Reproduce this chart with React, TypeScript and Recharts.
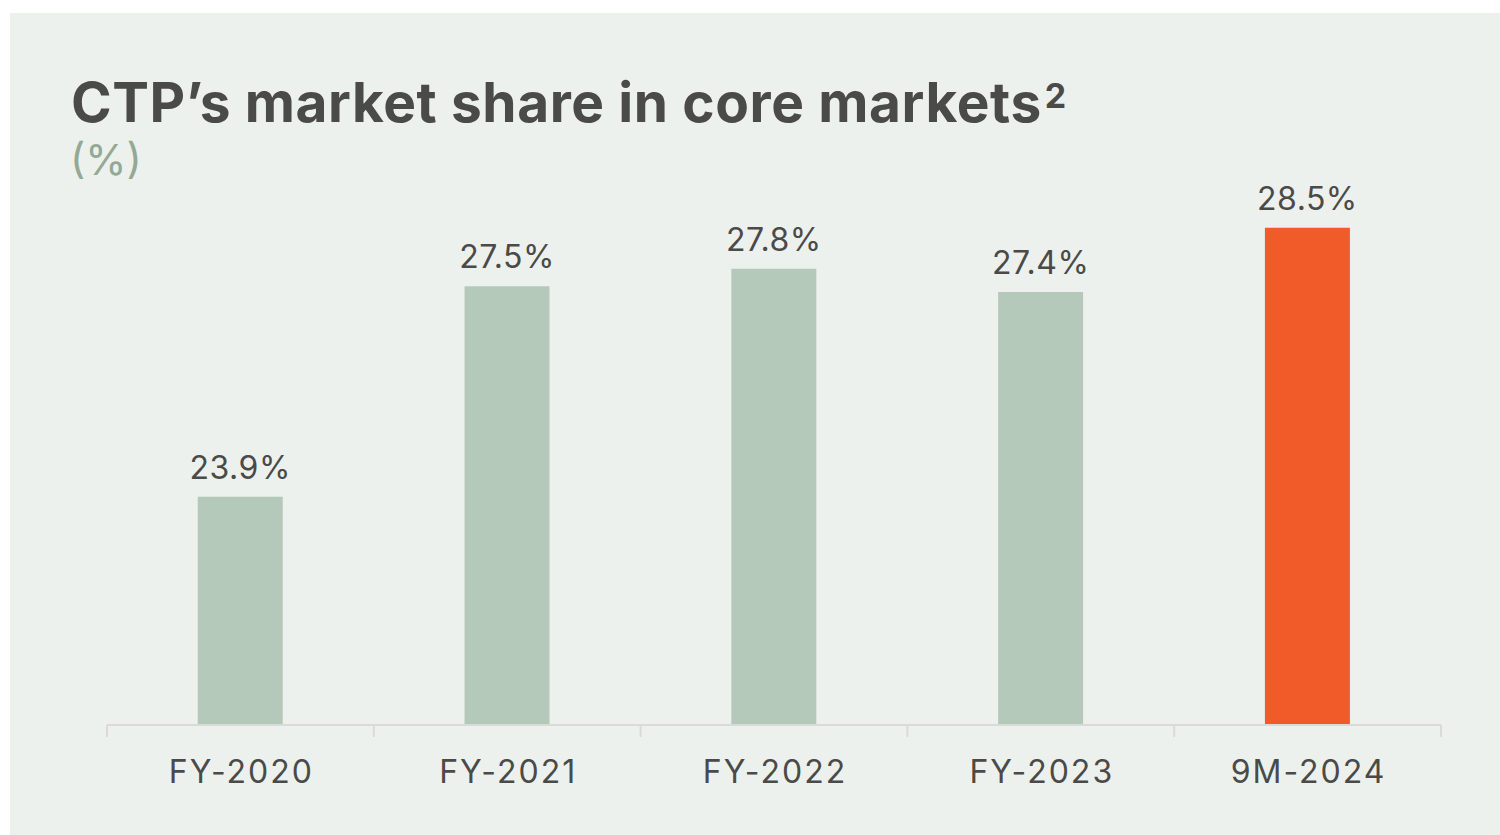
import { BarChart, Bar, XAxis, YAxis, Cell, LabelList } from 'recharts'

const periods = ['FY-2020', 'FY-2021', 'FY-2022', 'FY-2023', '9M-2024']
const shares = [23.9, 27.5, 27.8, 27.4, 28.5]
const barColors = ['#B4C9B9', '#B4C9B9', '#B4C9B9', '#B4C9B9', '#F15A29']

const chartData = periods.map((period, i) => ({ period, share: shares[i] }))

const AXIS_GREY = '#D9DBD8'

// label plus the little boundary ticks between categories
const PeriodTick = (props: any) => {
  const { x, y, payload, index, visibleTicksCount } = props
  const half = payload.offset || 0
  const isLast = index === visibleTicksCount - 1
  return (
    <g>
      <line x1={x - half} x2={x - half} y1={y - 35} y2={y - 23} stroke={AXIS_GREY} strokeWidth={2} />
      {isLast && <line x1={x + half} x2={x + half} y1={y - 35} y2={y - 23} stroke={AXIS_GREY} strokeWidth={2} />}
      <text
        x={x + 1}
        y={y}
        dy="0.71em"
        textAnchor="middle"
        fill="#4A4A48"
        fontSize={32}
        fontFamily="Inter, sans-serif"
        letterSpacing={2}
      >
        {payload.value}
      </text>
    </g>
  )
}

const App = () => {
  return (
    <div style={{ position: 'absolute', left: 0, top: 0, width: 1500, height: 835, background: '#ffffff', overflow: 'hidden' }}>
      <div style={{ position: 'absolute', left: 10, top: 13, width: 1490, height: 822, background: '#EDF1ED' }} />
      <div
        style={{
          position: 'absolute',
          left: 71,
          top: 70,
          fontFamily: 'Inter, sans-serif',
          fontWeight: 700,
          fontSize: 55,
          letterSpacing: 0.6,
          lineHeight: '64px',
          color: '#4A4A48',
          whiteSpace: 'nowrap',
        }}
      >
        CTP’s market share in core markets<sup style={{ fontSize: 34, fontWeight: 700, verticalAlign: 'top', position: 'relative', top: -6, marginLeft: 3 }}>2</sup>
      </div>
      <div
        style={{
          position: 'absolute',
          left: 70,
          top: 134,
          fontFamily: 'Inter, sans-serif',
          fontSize: 42,
          lineHeight: '52px',
          color: '#93A994',
        }}
      >
        (%)
      </div>
      <div style={{ position: 'absolute', left: 0, top: 0 }}>
        <BarChart
          width={1500}
          height={835}
          data={chartData}
          margin={{ top: 140, right: 59, bottom: 50, left: 107 }}
          barCategoryGap="34%"
        >
          <YAxis hide domain={[20, 30]} />
          <XAxis
            dataKey="period"
            height={60}
            axisLine={{ stroke: AXIS_GREY, strokeWidth: 2 }}
            tickLine={false}
            tickSize={0}
            tickMargin={35}
            interval={0}
            tick={<PeriodTick />}
          />
          <Bar dataKey="share" isAnimationActive={false}>
            {chartData.map((d, i) => (
              <Cell key={d.period} fill={barColors[i]} />
            ))}
            <LabelList
              dataKey="share"
              position="top"
              offset={18}
              formatter={(v: any) => `${v}%`}
              style={{ fill: '#4A4A48', fontSize: 32, fontFamily: 'Inter, sans-serif', letterSpacing: 0.5 }}
            />
          </Bar>
        </BarChart>
      </div>
    </div>
  )
}

export default App
